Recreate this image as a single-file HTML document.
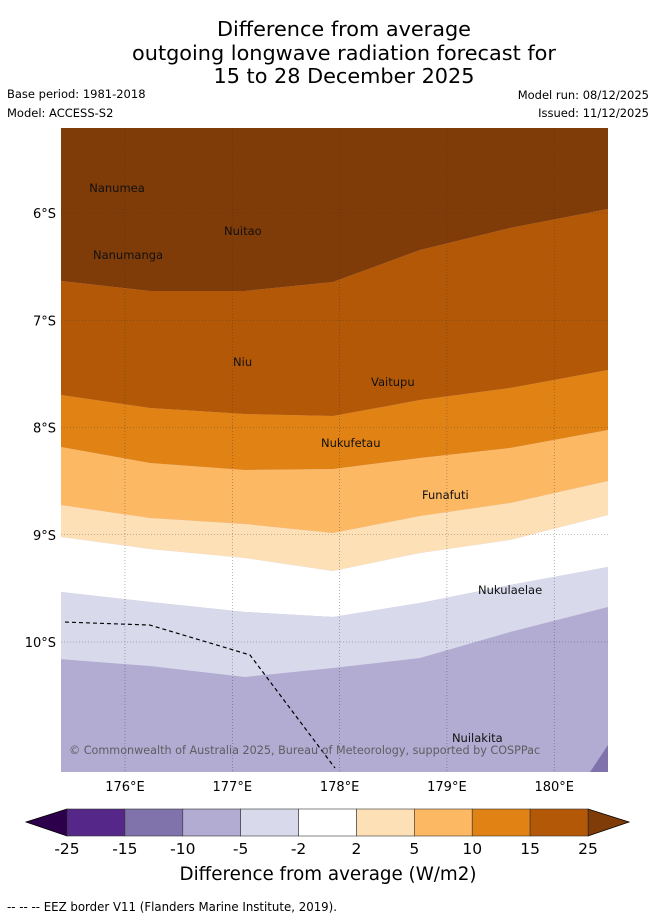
<!DOCTYPE html>
<html><head><meta charset="utf-8"><style>
body{margin:0;background:#fff;font-family:"DejaVu Sans","Liberation Sans",sans-serif;}
svg text{font-family:"DejaVu Sans","Liberation Sans",sans-serif;}
</style></head><body>
<svg id="chart" width="655" height="919" viewBox="0 0 655 919" xmlns="http://www.w3.org/2000/svg">
<text x="344" y="36" font-size="20.8" text-anchor="middle">Difference from average</text>
<text x="344" y="60" font-size="20.8" text-anchor="middle">outgoing longwave radiation forecast for</text>
<text x="344" y="83" font-size="20.8" text-anchor="middle">15 to 28 December 2025</text>
<text x="7" y="98" font-size="11.5">Base period: 1981-2018</text>
<text x="7" y="117" font-size="11.5">Model: ACCESS-S2</text>
<text x="649" y="99" font-size="11.5" text-anchor="end">Model run: 08/12/2025</text>
<text x="649" y="117" font-size="11.5" text-anchor="end">Issued: 11/12/2025</text>
<g id="map"></g>
<g id="cbar"></g>
<text x="328" y="880" font-size="18.3" text-anchor="middle">Difference from average (W/m2)</text>
<text x="7" y="911" font-size="12" textLength="330" lengthAdjust="spacingAndGlyphs">--  --  -- EEZ border V11 (Flanders Marine Institute, 2019).</text>
</svg>
<script>
const lonExtent=[175.404,180.501];
const latExtent=[5.2075,11.212];
const lonTicks=[176,177,178,179,180];
const latTicks=[6,7,8,9,10];
const boundaryLons=[175.404,176.233,177.118,177.938,178.749,179.588,180.501];
const b25=[6.634,6.727,6.727,6.643,6.345,6.14,5.963];
const b15=[7.697,7.818,7.874,7.893,7.744,7.632,7.464];
const b10=[8.182,8.331,8.396,8.387,8.284,8.191,8.023];
const b5=[8.723,8.844,8.9,8.984,8.825,8.704,8.499];
const b2=[9.021,9.133,9.217,9.338,9.17,9.049,8.816];
const bm2=[9.534,9.627,9.72,9.767,9.636,9.469,9.301];
const bm5=[10.159,10.224,10.326,10.242,10.149,9.907,9.674];
const cornerLons=[180.334,180.501,180.501];
const cornerLats=[11.212,10.96,11.212];
const eezLons=[175.441,176.233,177.165,177.957];
const eezLats=[9.814,9.842,10.121,11.175];
const placeNames=["Nanumea","Nuitao","Nanumanga","Niu","Vaitupu","Nukufetau","Funafuti","Nukulaelae","Nuilakita"];
const placeLons=[175.667,176.923,175.702,177.007,178.293,177.827,178.768,179.29,179.047];
const placeLats=[5.767,6.169,6.392,7.39,7.576,8.145,8.63,9.516,10.896];
const cbarTicks=["-25","-15","-10","-5","-2","2","5","10","15","25"];
const cbarColors=["#542788","#8073ac","#b2abd2","#d8daeb","#ffffff","#fee0b6","#fdb863","#e08214","#b35806"];
const NS="http://www.w3.org/2000/svg";
const X0=61,X1=608,Y0=128,Y1=772;
const xs=l=>X0+(l-lonExtent[0])/(lonExtent[1]-lonExtent[0])*(X1-X0);
const ys=l=>Y0+(l-latExtent[0])/(latExtent[1]-latExtent[0])*(Y1-Y0);
const map=document.getElementById('map');
function mk(tag,attrs,parent){const e=document.createElementNS(NS,tag);for(const k in attrs)e.setAttribute(k,attrs[k]);parent.appendChild(e);return e;}
mk('rect',{x:X0,y:Y0,width:X1-X0,height:Y1-Y0,fill:'#b2abd2'},map);
const bands=[[null,b25,'#7f3b08'],[b25,b15,'#b35806'],[b15,b10,'#e08214'],[b10,b5,'#fdb863'],[b5,b2,'#fee0b6'],[b2,bm2,'#ffffff'],[bm2,bm5,'#d8daeb']];
bands.forEach((b,i)=>{
  let pts=[];
  if(b[0]===null){pts.push([xs(boundaryLons[0]),Y0],[xs(boundaryLons[6]),Y0]);}
  else boundaryLons.forEach((l,j)=>pts.push([xs(l),ys(b[0][j])]));
  for(let j=boundaryLons.length-1;j>=0;j--)pts.push([xs(boundaryLons[j]),ys(b[1][j])]);
  const p=mk('polygon',{points:pts.map(q=>q.join(',')).join(' '),fill:b[2]},map);
  
  
});
const cp=mk('polygon',{points:cornerLons.map((l,j)=>xs(l)+','+ys(cornerLats[j])).join(' '),fill:'#8073ac'},map);


lonTicks.forEach(l=>{
  const g=mk('line',{x1:xs(l),x2:xs(l),y1:Y0,y2:Y1,stroke:'#333',"stroke-width":0.6,"stroke-dasharray":'1,2',opacity:0.6},map);
  
  
  const t=mk('text',{x:xs(l),y:791,"font-size":13,"text-anchor":'middle'},map);t.textContent=l+'°E';
  
  
});
latTicks.forEach(l=>{
  const g=mk('line',{x1:X0,x2:X1,y1:ys(l),y2:ys(l),stroke:'#333',"stroke-width":0.6,"stroke-dasharray":'1,2',opacity:0.6},map);
  
  
  const t=mk('text',{x:56,y:ys(l)+5,"font-size":13,"text-anchor":'end'},map);t.textContent=l+'°S';
  
  
});
const eez=mk('polyline',{points:eezLons.map((l,j)=>xs(l)+','+ys(eezLats[j])).join(' '),fill:'none',stroke:'#000',"stroke-width":1.2,"stroke-dasharray":'4,3'},map);


placeNames.forEach((n,i)=>{
  const t=mk('text',{x:xs(placeLons[i]),y:ys(placeLats[i])+4,"font-size":11.5,fill:'#111'},map);t.textContent=n;
  
  
});
const cr=mk('text',{x:69,y:754,"font-size":11.2,fill:'#555',opacity:0.9},map);cr.textContent='© Commonwealth of Australia 2025, Bureau of Meteorology, supported by COSPPac';


const cb=document.getElementById('cbar');
const CX0=67,CX1=588,CY0=809,CY1=836,w=(CX1-CX0)/cbarColors.length;
const lt=mk('polygon',{points:`26,822 ${CX0},${CY0} ${CX0},${CY1}`,fill:'#2d004b',stroke:'#000',"stroke-width":0.8},cb);


const rt=mk('polygon',{points:`629,822 ${CX1},${CY0} ${CX1},${CY1}`,fill:'#7f3b08',stroke:'#000',"stroke-width":0.8},cb);


cbarColors.forEach((c,i)=>{
  const r=mk('rect',{x:CX0+i*w,y:CY0,width:w,height:CY1-CY0,fill:c,stroke:'#333',"stroke-width":0.6},cb);
  
  
});
cbarTicks.forEach((t,i)=>{
  const e=mk('text',{x:CX0+i*w,y:854,"font-size":15.5,"text-anchor":'middle'},cb);e.textContent=t;
  
  
});
</script>
</body></html>
